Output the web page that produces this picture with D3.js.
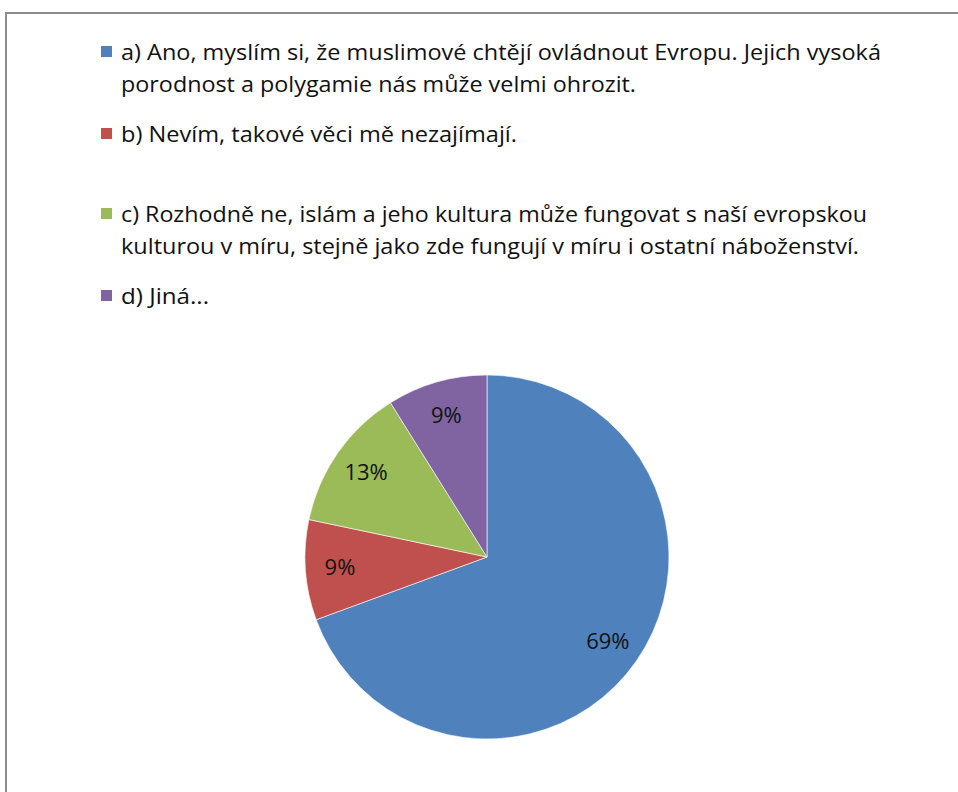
<!DOCTYPE html>
<html>
<head>
<meta charset="utf-8">
<script src="https://cdn.jsdelivr.net/npm/d3@7"></script>
<style>
  body { margin: 0; background: #fff; }
  svg text { font-family: "Open Sans", "Noto Sans", sans-serif; fill: #111; }
</style>
</head>
<body>
<div id="chart"></div>
<script>
//Data
var categories = ["a", "b", "c", "d"];
var legendLines = [
  ["a) Ano, myslím si, že muslimové chtějí ovládnout Evropu. Jejich vysoká",
   "porodnost a polygamie nás může velmi ohrozit."],
  ["b) Nevím, takové věci mě nezajímají."],
  ["c) Rozhodně ne, islám a jeho kultura může fungovat s naší evropskou",
   "kulturou v míru, stejně jako zde fungují v míru i ostatní náboženství."],
  ["d) Jiná..."]
];
var values = [69.4, 8.9, 12.8, 8.9];
var colors = ["#4F81BD", "#C0504D", "#9BBB59", "#8064A2"];

//Size
var width = 958, height = 792;

var svg = d3.select("#chart")
  .append("svg")
    .attr("width", width)
    .attr("height", height);

//Frame (left and top edge visible)
svg.append("path")
  .attr("d", "M6," + height + "V13H" + width)
  .attr("fill", "none")
  .attr("stroke", "#8c8c8c")
  .attr("stroke-width", 2);

//Legend
var legendTop = [60, 142, 222, 304];
var lineGap = 32;
var lineWidths = [[760, 515], [396], [746, 738], [88]];

var legend = svg.append("g").attr("class", "legend");

categories.forEach(function(c, i) {
  var g = legend.append("g");
  g.append("rect")
    .attr("x", 101)
    .attr("y", legendTop[i] - 14)
    .attr("width", 11)
    .attr("height", 11)
    .attr("fill", colors[i]);
  legendLines[i].forEach(function(line, j) {
    g.append("text")
      .attr("x", 121)
      .attr("y", legendTop[i] + j * lineGap)
      .attr("textLength", lineWidths[i][j])
      .attr("lengthAdjust", "spacingAndGlyphs")
      .style("font-size", "22.5px")
      .text(line);
  });
});

//Pie
var cx = 487, cy = 557, radius = 182;

var pie = d3.pie()
  .sort(null)
  .value(function(d) { return d; });

var arc = d3.arc()
  .innerRadius(0)
  .outerRadius(radius);

var labelArc = d3.arc()
  .innerRadius(radius * 0.81)
  .outerRadius(radius * 0.81);

var pieG = svg.append("g")
  .attr("transform", "translate(" + cx + "," + cy + ")");

var slices = pie(values);

pieG.selectAll("path")
  .data(slices)
  .enter()
  .append("path")
    .attr("d", arc)
    .attr("fill", function(d, i) { return colors[i]; })
    .attr("stroke", "#ffffff")
    .attr("stroke-width", 0.6);

pieG.selectAll("text.pct")
  .data(slices)
  .enter()
  .append("text")
    .attr("class", "pct")
    .attr("transform", function(d) { return "translate(" + labelArc.centroid(d) + ")"; })
    .attr("text-anchor", "middle")
    .attr("dy", "0.35em")
    .style("font-size", "22px")
    .text(function(d) { return Math.round(d.data) + "%"; });
</script>
</body>
</html>
